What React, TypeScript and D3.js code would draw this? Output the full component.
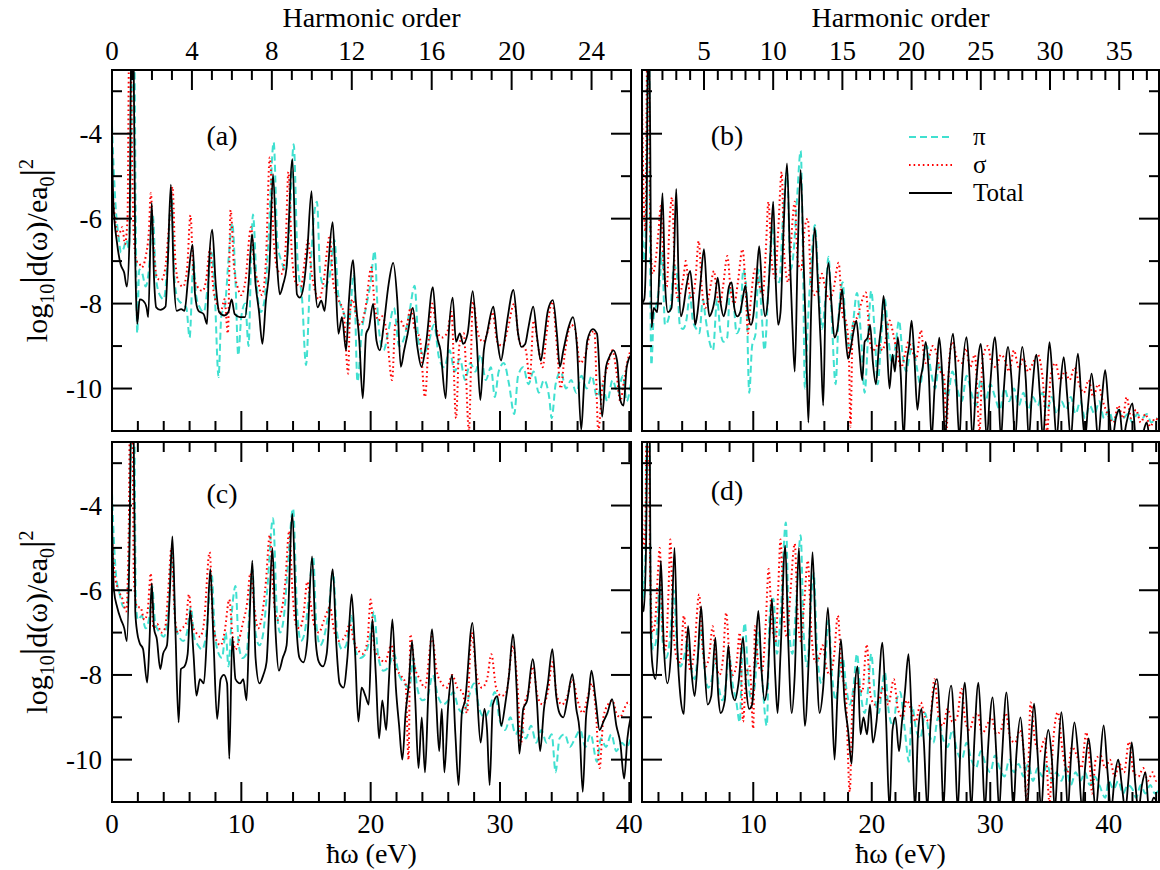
import React from "react";
import * as d3 from "d3";

// ---------- DATA (flat [eV, log10|d|^2] pairs) ----------
const totalA = [0.0,-4.1, 0.1,-5.6, 0.4,-6.6, 0.67,-7.08, 0.94,-7.27, 1.15,-7.6, 1.35,-6.5, 1.5,-1.5, 1.65,-1.5, 1.8,-7.0, 1.87,-7.93, 1.95,-8.48, 2.14,-7.9, 2.4,-7.93, 2.67,-8.09, 2.8,-8.32, 3.07,-5.63, 3.25,-7.4, 3.42,-8.09, 3.74,-8.15, 4.14,-8.07, 4.3,-7.15, 4.55,-5.2, 4.78,-7.4, 5.0,-8.17, 5.35,-8.13, 5.61,-8.17, 5.88,-7.43, 6.23,-6.61, 6.42,-7.78, 6.68,-8.17, 7.09,-8.25, 7.35,-8.48, 7.49,-7.15, 7.75,-6.26, 8.02,-7.54, 8.29,-8.2, 8.69,-8.28, 9.0,-8.2, 9.25,-7.9, 9.49,-8.25, 9.89,-8.32, 10.29,-8.32, 10.56,-7.54, 10.83,-6.37, 11.1,-7.54, 11.36,-8.17, 11.63,-8.95, 11.9,-7.93, 12.17,-7.15, 12.45,-4.95, 12.75,-7.0, 12.97,-7.78, 13.24,-7.54, 13.5,-7.15, 13.95,-4.6, 14.3,-7.78, 14.52,-7.86, 14.84,-7.54, 15.1,-6.76, 15.43,-5.35, 15.7,-7.54, 15.9,-8.09, 16.18,-7.93, 16.44,-8.17, 16.71,-7.15, 17.06,-6.08, 17.25,-7.15, 17.51,-8.71, 17.78,-8.32, 18.1,-9.1, 18.32,-7.93, 18.64,-6.98, 18.85,-7.93, 19.12,-8.87, 19.39,-10.23, 19.65,-8.71, 19.87,-8.56, 20.19,-8.01, 20.45,-8.87, 20.72,-9.1, 20.99,-8.56, 21.39,-7.54, 21.74,-7.04, 22.06,-7.93, 22.33,-9.49, 22.59,-9.1, 22.86,-8.71, 23.26,-8.1, 23.6,-9.0, 23.93,-9.49, 24.3,-8.9, 24.81,-7.61, 25.1,-8.7, 25.4,-9.1, 25.8,-10.23, 26.0,-8.9, 26.34,-7.86, 26.6,-8.9, 26.9,-8.7, 27.15,-8.95, 27.5,-8.7, 27.89,-7.71, 28.2,-8.87, 28.48,-10.27, 28.75,-9.1, 29.0,-8.7, 29.49,-8.07, 29.8,-8.87, 30.08,-9.34, 30.35,-8.87, 30.6,-8.32, 31.04,-7.68, 31.4,-8.71, 31.65,-9.02, 31.95,-8.95, 32.2,-8.56, 32.57,-8.07, 32.9,-8.87, 33.16,-9.34, 33.4,-8.87, 33.7,-8.17, 34.09,-7.92, 34.4,-8.71, 34.63,-9.49, 34.9,-9.1, 35.3,-8.56, 35.64,-8.32, 35.95,-9.0, 36.28,-10.97, 36.5,-9.9, 36.75,-8.87, 37.17,-8.6, 37.5,-8.71, 37.9,-10.66, 38.2,-9.49, 38.45,-9.26, 38.77,-9.1, 39.05,-9.34, 39.3,-10.27, 39.55,-10.4, 39.8,-9.49, 40.1,-9.22];

const sigmaA = [0.0,-5.2, 0.2,-5.9, 0.5,-6.4, 0.8,-6.2, 1.0,-6.6, 1.2,-6.0, 1.32,-2.0, 1.42,-1.5, 1.55,-4.5, 1.7,-6.5, 1.9,-7.0, 2.1,-7.04, 2.3,-7.15, 2.6,-6.9, 2.85,-6.3, 3.0,-5.4, 3.2,-6.6, 3.5,-7.4, 3.8,-7.45, 4.1,-7.2, 4.4,-6.2, 4.68,-5.25, 4.9,-7.0, 5.15,-7.5, 5.5,-7.6, 5.8,-7.2, 6.07,-5.92, 6.3,-7.3, 6.6,-7.6, 7.0,-7.7, 7.3,-7.4, 7.57,-6.7, 7.85,-7.7, 8.1,-8.0, 8.4,-8.2, 8.7,-7.9, 8.96,-8.7, 9.17,-5.8, 9.45,-7.2, 9.7,-7.6, 10.0,-7.8, 10.3,-7.5, 10.75,-6.2, 11.0,-7.1, 11.3,-7.5, 11.6,-7.8, 11.9,-7.0, 12.2,-4.56, 12.5,-6.5, 12.8,-7.2, 13.1,-7.3, 13.4,-6.8, 13.64,-4.9, 13.9,-6.8, 14.2,-7.5, 14.6,-7.6, 14.9,-7.0, 15.15,-6.5, 15.4,-7.2, 15.7,-7.7, 16.0,-7.9, 16.3,-7.6, 16.84,-6.4, 17.1,-7.5, 17.5,-7.9, 17.9,-8.2, 18.26,-9.65, 18.4,-8.2, 18.6,-7.9, 18.9,-8.3, 19.2,-8.5, 19.6,-8.1, 20.05,-7.15, 20.3,-8.0, 20.6,-8.4, 20.9,-8.3, 21.2,-8.6, 21.66,-9.8, 21.9,-8.5, 22.3,-8.4, 22.7,-8.6, 23.1,-8.1, 23.4,-8.6, 23.8,-8.8, 24.2,-10.2, 24.5,-8.8, 24.75,-8.0, 25.1,-8.6, 25.5,-8.8, 25.9,-8.7, 26.25,-8.2, 26.6,-10.7, 26.85,-9.0, 27.2,-8.7, 27.6,-11.0, 27.9,-7.95, 28.3,-8.7, 28.7,-8.9, 29.1,-8.6, 29.4,-8.2, 29.8,-8.9, 30.2,-9.0, 30.6,-8.6, 31.1,-8.0, 31.5,-8.9, 32.0,-9.1, 32.3,-9.8, 32.6,-8.4, 33.0,-9.1, 33.3,-9.5, 33.6,-8.7, 34.05,-7.95, 34.4,-9.0, 34.7,-10.0, 35.0,-9.2, 35.5,-8.5, 35.8,-8.6, 36.2,-9.4, 36.6,-9.2, 37.0,-8.7, 37.3,-8.65, 37.6,-11.0, 37.9,-10.0, 38.3,-9.5, 38.7,-9.1, 39.0,-9.6, 39.3,-10.3, 39.6,-9.8, 39.9,-9.3, 40.1,-9.1];

const piA = [0.0,-3.8, 0.1,-4.6, 0.3,-5.8, 0.5,-6.4, 0.7,-6.8, 0.9,-6.7, 1.1,-6.5, 1.3,-6.7, 1.5,-4.0, 1.6,-1.5, 1.7,-1.5, 1.85,-6.5, 1.95,-8.7, 2.1,-7.2, 2.35,-7.3, 2.6,-7.6, 2.85,-7.2, 3.15,-5.9, 3.4,-7.4, 3.7,-7.8, 4.0,-7.9, 4.3,-7.0, 4.6,-5.4, 4.85,-7.5, 5.1,-7.9, 5.4,-8.0, 5.75,-8.1, 6.0,-8.8, 6.3,-7.0, 6.5,-7.8, 6.8,-8.1, 7.1,-8.2, 7.4,-7.6, 7.7,-6.8, 7.95,-7.8, 8.24,-9.73, 8.45,-8.3, 8.75,-8.0, 9.0,-7.0, 9.3,-6.1, 9.55,-7.5, 9.76,-9.22, 10.0,-8.3, 10.3,-8.0, 10.56,-9.0, 10.75,-7.0, 10.9,-5.9, 11.2,-7.6, 11.5,-8.2, 11.8,-7.9, 12.1,-6.5, 12.5,-4.2, 12.8,-6.6, 13.1,-7.0, 13.4,-7.2, 13.7,-6.3, 14.05,-4.25, 14.35,-7.0, 14.7,-7.9, 15.0,-9.45, 15.3,-7.5, 15.6,-6.0, 15.85,-5.6, 16.1,-7.3, 16.4,-7.6, 16.8,-7.4, 17.2,-6.5, 17.5,-7.8, 17.9,-8.2, 18.3,-8.5, 18.7,-7.3, 18.98,-9.84, 19.3,-8.7, 19.7,-8.0, 20.0,-7.5, 20.3,-6.76, 20.6,-8.5, 21.0,-9.1, 21.4,-8.6, 21.8,-8.1, 22.2,-9.0, 22.6,-8.8, 23.0,-8.2, 23.4,-7.58, 23.7,-8.9, 24.1,-9.2, 24.5,-8.9, 24.9,-8.5, 25.3,-9.3, 25.7,-9.5, 26.1,-9.1, 26.5,-9.6, 26.9,-9.3, 27.3,-9.8, 27.7,-9.4, 28.1,-9.6, 28.5,-9.2, 28.9,-9.8, 29.3,-9.5, 29.6,-10.2, 29.9,-9.6, 30.3,-9.4, 30.7,-9.9, 31.1,-10.6, 31.4,-9.7, 31.8,-9.5, 32.2,-9.9, 32.6,-9.6, 33.0,-10.1, 33.4,-9.8, 33.8,-10.2, 34.0,-10.7, 34.3,-9.9, 34.7,-9.6, 35.1,-10.0, 35.5,-9.8, 35.9,-10.1, 36.3,-9.7, 36.7,-10.0, 37.1,-9.7, 37.5,-10.2, 37.9,-9.9, 38.3,-10.3, 38.7,-9.8, 39.1,-10.1, 39.5,-9.7, 39.8,-10.3, 40.1,-9.9];

const totalB = [0.6,-8.0, 0.8,-7.9, 1.0,-6.0, 1.1,-2.0, 1.2,-1.5, 1.3,-4.0, 1.42,-8.56, 1.6,-8.1, 1.9,-8.2, 2.1,-7.0, 2.34,-5.4, 2.55,-7.5, 2.8,-8.2, 3.1,-8.1, 3.3,-7.0, 3.5,-5.3, 3.7,-7.4, 3.9,-8.3, 4.1,-8.1, 4.35,-7.6, 4.67,-7.23, 4.9,-7.8, 5.1,-8.5, 5.3,-8.2, 5.55,-7.5, 5.84,-6.72, 6.1,-7.8, 6.3,-8.3, 6.5,-8.2, 6.75,-7.9, 7.0,-7.39, 7.25,-8.0, 7.5,-8.3, 7.7,-8.1, 7.95,-7.6, 8.18,-7.5, 8.4,-8.1, 8.65,-8.3, 8.9,-8.2, 9.1,-7.9, 9.34,-7.58, 9.55,-8.2, 9.8,-8.5, 10.0,-8.3, 10.25,-7.5, 10.5,-6.65, 10.75,-7.7, 11.0,-8.3, 11.2,-8.0, 11.45,-6.8, 11.68,-5.6, 11.9,-7.5, 12.1,-8.5, 12.3,-8.2, 12.55,-6.3, 12.85,-4.7, 13.1,-7.0, 13.3,-8.5, 13.5,-9.6, 13.75,-6.8, 14.0,-4.85, 14.25,-7.0, 14.45,-8.8, 14.65,-10.8, 14.9,-8.0, 15.2,-6.22, 15.45,-7.5, 15.7,-9.0, 15.9,-10.4, 16.1,-8.0, 16.35,-7.04, 16.6,-8.0, 16.85,-8.8, 17.1,-8.6, 17.3,-8.1, 17.5,-7.66, 17.75,-8.6, 18.0,-9.3, 18.25,-9.0, 18.5,-8.6, 18.7,-8.4, 18.95,-9.1, 19.2,-9.8, 19.4,-8.9, 19.65,-8.8, 19.86,-8.5, 20.1,-9.4, 20.35,-9.9, 20.6,-9.0, 20.8,-8.5, 21.0,-7.82, 21.25,-8.8, 21.5,-10.0, 21.75,-9.2, 21.95,-9.6, 22.2,-8.79, 22.45,-9.7, 22.7,-11.2, 22.95,-9.4, 23.15,-9.0, 23.36,-8.4, 23.6,-9.3, 23.85,-10.5, 24.1,-9.8, 24.3,-9.5, 24.55,-8.9, 24.8,-9.6, 25.05,-11.2, 25.3,-10.0, 25.5,-9.4, 25.7,-8.8, 25.95,-9.7, 26.2,-11.2, 26.45,-9.8, 26.86,-8.71, 27.1,-9.6, 27.4,-11.2, 27.6,-9.9, 28.0,-8.79, 28.25,-9.7, 28.5,-11.2, 28.8,-9.9, 29.2,-8.95, 29.45,-9.8, 29.7,-11.2, 30.0,-9.9, 30.4,-8.79, 30.65,-9.7, 30.9,-11.2, 31.15,-10.0, 31.5,-9.02, 31.8,-9.8, 32.1,-11.2, 32.35,-10.1, 32.7,-9.02, 33.0,-9.8, 33.25,-11.2, 33.5,-10.2, 33.9,-9.2, 34.2,-10.2, 34.45,-11.2, 34.7,-10.1, 35.0,-8.91, 35.3,-10.0, 35.6,-11.2, 35.9,-10.0, 36.2,-9.26, 36.5,-10.2, 36.8,-11.2, 37.05,-10.2, 37.4,-9.18, 37.7,-10.3, 38.0,-11.2, 38.25,-10.4, 38.55,-9.65, 38.85,-10.4, 39.1,-11.2, 39.4,-10.3, 39.7,-9.57, 40.0,-10.5, 40.3,-11.2, 40.6,-10.7, 40.9,-10.5, 41.2,-11.2, 41.5,-10.8, 42.0,-10.35, 42.3,-11.2, 42.7,-11.2, 43.2,-10.8, 43.5,-11.2, 44.3,-11.2];

const sigmaB = [0.6,-3.0, 0.75,-5.5, 0.9,-6.3, 1.05,-2.0, 1.15,-1.5, 1.3,-6.0, 1.5,-7.3, 1.75,-7.0, 2.0,-6.3, 2.2,-5.7, 2.45,-7.2, 2.7,-7.6, 2.95,-6.0, 3.15,-5.5, 3.4,-7.4, 3.65,-7.9, 3.9,-7.7, 4.15,-7.3, 4.3,-7.0, 4.55,-7.6, 4.8,-7.9, 5.1,-7.5, 5.4,-6.53, 5.65,-7.6, 5.95,-8.1, 6.2,-7.9, 6.45,-7.5, 6.68,-7.23, 6.95,-7.8, 7.2,-8.0, 7.45,-7.6, 7.81,-6.88, 8.1,-7.7, 8.4,-8.0, 8.7,-7.5, 9.09,-6.72, 9.35,-7.6, 9.55,-8.7, 9.8,-7.9, 10.14,-7.19, 10.45,-7.5, 10.8,-7.8, 11.05,-6.8, 11.28,-5.6, 11.55,-7.0, 11.85,-7.4, 12.1,-6.3, 12.4,-4.9, 12.6,-6.8, 12.95,-7.5, 13.2,-6.5, 13.5,-5.6, 13.75,-7.0, 14.05,-7.2, 14.35,-6.2, 14.6,-6.0, 14.9,-7.6, 15.2,-7.8, 15.5,-7.6, 15.8,-7.3, 16.05,-7.6, 16.4,-7.9, 16.75,-7.7, 17.2,-7.04, 17.55,-8.3, 17.8,-8.4, 18.05,-9.0, 18.2,-10.9, 18.4,-8.5, 18.8,-8.3, 19.1,-8.0, 19.5,-7.74, 19.85,-8.9, 20.1,-9.1, 20.6,-8.95, 20.9,-9.1, 21.2,-8.8, 21.5,-8.4, 21.8,-8.7, 22.1,-9.1, 22.5,-9.5, 22.8,-9.2, 23.1,-8.9, 23.4,-9.1, 23.75,-9.3, 24.15,-8.63, 24.5,-9.4, 24.8,-9.3, 25.15,-9.0, 25.4,-9.1, 25.8,-9.6, 26.1,-9.7, 26.3,-11.0, 26.55,-9.3, 26.8,-8.9, 27.2,-9.3, 27.6,-9.4, 27.95,-9.05, 28.3,-9.5, 28.7,-9.2, 29.1,-11.0, 29.35,-9.3, 29.8,-9.0, 30.1,-9.4, 30.5,-9.5, 30.9,-9.2, 31.2,-9.3, 31.6,-9.6, 32.0,-9.1, 32.4,-9.5, 32.8,-9.3, 33.2,-9.6, 33.6,-9.4, 34.0,-9.2, 34.4,-9.7, 34.8,-11.0, 35.1,-9.7, 35.5,-9.4, 35.9,-9.8, 36.3,-9.6, 36.7,-9.8, 37.1,-9.5, 37.5,-9.9, 37.9,-10.1, 38.3,-9.8, 38.7,-10.2, 39.1,-9.9, 39.5,-10.3, 39.9,-10.6, 40.4,-10.8, 40.8,-10.4, 41.2,-10.7, 41.5,-10.2, 41.9,-10.7, 42.3,-10.5, 42.7,-10.8, 43.1,-10.6, 43.5,-10.9, 43.9,-10.7, 44.3,-10.8];

const piB = [0.6,-6.0, 0.8,-7.0, 0.95,-6.0, 1.1,-2.0, 1.2,-1.5, 1.3,-7.0, 1.4,-9.45, 1.6,-8.3, 1.85,-8.0, 2.1,-7.5, 2.3,-6.8, 2.55,-8.5, 2.8,-8.4, 3.05,-8.0, 3.3,-7.1, 3.55,-7.3, 3.8,-8.5, 4.05,-8.6, 4.35,-8.4, 4.65,-7.8, 4.9,-8.4, 5.2,-8.6, 5.45,-8.7, 5.75,-7.9, 5.95,-8.3, 6.4,-9.0, 6.6,-9.1, 6.95,-7.9, 7.2,-8.6, 7.5,-8.9, 7.8,-8.8, 8.05,-7.6, 8.25,-7.7, 8.6,-8.7, 8.9,-8.5, 9.15,-7.2, 9.4,-7.6, 9.66,-10.1, 9.9,-9.0, 10.2,-8.7, 10.45,-7.2, 10.7,-8.2, 10.95,-9.1, 11.3,-7.5, 11.6,-6.2, 11.9,-7.3, 12.2,-7.5, 12.5,-6.0, 12.85,-4.9, 13.15,-7.2, 13.4,-6.8, 13.7,-5.5, 14.0,-4.4, 14.2,-7.0, 14.35,-10.0, 14.6,-8.5, 14.9,-7.0, 15.2,-6.15, 15.5,-7.5, 15.8,-8.6, 16.05,-8.0, 16.35,-6.9, 16.6,-8.2, 16.95,-9.9, 17.2,-8.3, 17.55,-7.5, 17.8,-8.6, 18.05,-9.0, 18.4,-8.5, 18.75,-7.75, 19.1,-8.8, 19.4,-10.1, 19.7,-8.7, 19.95,-7.7, 20.25,-8.7, 20.5,-9.9, 20.8,-8.8, 21.1,-7.9, 21.4,-8.8, 21.7,-9.4, 22.0,-9.0, 22.3,-8.4, 22.6,-9.2, 22.9,-9.6, 23.2,-9.2, 23.45,-8.95, 23.8,-9.5, 24.1,-9.9, 24.4,-9.3, 24.65,-9.0, 25.0,-9.6, 25.35,-10.0, 25.7,-9.4, 26.0,-9.8, 26.4,-10.2, 26.8,-9.6, 27.2,-10.0, 27.6,-10.3, 28.0,-9.7, 28.4,-10.1, 28.8,-10.4, 29.2,-9.8, 29.6,-10.3, 30.0,-9.9, 30.4,-10.2, 30.8,-10.5, 31.2,-10.0, 31.6,-10.3, 32.0,-10.0, 32.4,-10.4, 32.8,-10.1, 33.2,-10.5, 33.6,-10.2, 34.0,-10.4, 34.4,-10.1, 34.8,-10.5, 35.2,-10.2, 35.6,-10.6, 36.0,-10.3, 36.4,-10.5, 36.8,-10.2, 37.2,-10.6, 37.6,-10.3, 38.0,-10.7, 38.4,-10.4, 38.8,-10.6, 39.2,-10.3, 39.6,-10.7, 40.0,-10.5, 40.4,-10.8, 40.8,-10.5, 41.2,-10.7, 41.6,-10.6, 42.0,-10.8, 42.4,-10.6, 42.8,-10.7, 43.2,-10.6, 43.6,-10.8, 44.0,-10.7, 44.3,-10.8];

const totalC = [0.0,-4.3, 0.15,-6.0, 0.4,-6.4, 0.7,-6.7, 0.95,-6.9, 1.15,-7.2, 1.35,-5.0, 1.5,-1.5, 1.65,-1.5, 1.8,-6.5, 1.95,-7.0, 2.13,-7.24, 2.4,-7.39, 2.72,-8.18, 2.9,-7.2, 3.07,-5.84, 3.25,-6.9, 3.47,-7.16, 3.73,-7.86, 3.95,-7.5, 4.25,-7.3, 4.45,-6.2, 4.67,-4.73, 4.9,-6.9, 5.15,-9.12, 5.33,-7.86, 5.6,-7.8, 5.85,-7.5, 6.05,-6.49, 6.3,-7.5, 6.53,-8.49, 6.8,-8.1, 7.1,-8.2, 7.35,-7.0, 7.6,-5.5, 7.85,-7.2, 8.13,-9.04, 8.4,-8.1, 8.65,-8.0, 8.9,-8.2, 9.07,-9.98, 9.3,-7.1, 9.55,-8.1, 9.9,-8.2, 10.15,-8.1, 10.4,-8.6, 10.6,-7.0, 10.85,-5.3, 11.1,-7.6, 11.4,-8.2, 11.7,-8.0, 11.95,-7.7, 12.15,-6.5, 12.4,-5.0, 12.65,-7.0, 12.9,-7.9, 13.2,-7.6, 13.5,-7.3, 13.95,-4.2, 14.25,-6.8, 14.5,-7.6, 14.8,-7.7, 15.1,-7.2, 15.47,-5.2, 15.75,-7.2, 16.0,-7.7, 16.3,-7.8, 16.6,-7.5, 17.07,-5.5, 17.35,-7.3, 17.6,-8.2, 17.9,-8.3, 18.2,-7.6, 18.53,-6.1, 18.8,-7.5, 19.05,-9.1, 19.3,-8.3, 19.6,-8.5, 19.85,-8.7, 20.13,-6.69, 20.4,-8.0, 20.65,-9.5, 20.9,-8.6, 21.2,-9.3, 21.4,-8.2, 21.68,-6.69, 21.95,-8.3, 22.2,-9.2, 22.45,-10.0, 22.7,-8.9, 22.95,-8.2, 23.2,-7.2, 23.45,-8.6, 23.7,-10.2, 23.95,-9.0, 24.2,-10.3, 24.45,-8.5, 24.75,-6.92, 25.05,-8.5, 25.3,-9.8, 25.5,-8.8, 25.7,-10.3, 26.0,-8.7, 26.3,-8.0, 26.55,-9.4, 26.8,-10.6, 27.05,-8.9, 27.3,-8.6, 27.87,-6.77, 28.2,-8.3, 28.5,-9.6, 28.8,-8.8, 29.0,-9.3, 29.2,-10.6, 29.45,-8.7, 29.8,-8.5, 30.1,-9.2, 30.4,-8.7, 30.7,-8.0, 31.0,-7.04, 31.3,-8.4, 31.5,-9.86, 31.8,-8.8, 32.1,-8.6, 32.53,-7.63, 32.85,-8.6, 33.1,-9.8, 33.4,-8.8, 33.7,-8.2, 34.05,-7.39, 34.35,-8.5, 34.6,-8.9, 34.9,-9.0, 35.2,-8.6, 35.6,-7.98, 35.9,-8.8, 36.15,-9.3, 36.4,-10.76, 36.65,-9.0, 36.85,-8.5, 37.07,-7.9, 37.4,-8.6, 37.7,-9.3, 38.0,-9.1, 38.3,-8.9, 38.67,-8.57, 39.0,-9.2, 39.3,-9.6, 39.6,-10.45, 39.85,-9.5, 40.1,-9.0];

const sigmaC = [0.0,-4.8, 0.2,-5.6, 0.5,-6.0, 0.8,-6.2, 1.1,-6.5, 1.3,-4.5, 1.4,-1.5, 1.55,-1.5, 1.7,-5.8, 1.95,-6.4, 2.2,-6.4, 2.5,-6.7, 2.75,-6.5, 3.0,-5.6, 3.2,-6.9, 3.5,-6.8, 3.8,-7.0, 4.1,-6.9, 4.35,-6.0, 4.6,-5.0, 4.85,-6.6, 5.1,-7.0, 5.4,-6.9, 5.7,-6.8, 5.95,-6.1, 6.2,-6.8, 6.5,-7.0, 6.8,-7.1, 7.1,-6.8, 7.55,-5.1, 7.8,-6.7, 8.1,-7.2, 8.4,-7.3, 8.7,-7.0, 9.07,-6.22, 9.3,-7.0, 9.55,-7.4, 9.8,-7.2, 10.1,-6.8, 10.45,-6.3, 10.7,-5.6, 11.0,-6.4, 11.3,-6.9, 11.6,-6.6, 11.9,-5.8, 12.2,-4.7, 12.5,-6.2, 12.8,-6.7, 13.1,-6.5, 13.4,-5.8, 13.7,-4.6, 13.95,-6.0, 14.2,-6.8, 14.5,-6.9, 14.8,-6.6, 15.1,-5.8, 15.35,-6.3, 15.7,-6.9, 16.0,-7.0, 16.4,-6.7, 16.85,-6.4, 17.2,-7.0, 17.6,-7.2, 18.0,-7.1, 18.4,-6.8, 18.7,-7.2, 19.0,-7.4, 19.4,-7.5, 19.75,-7.2, 20.0,-6.22, 20.3,-7.4, 20.7,-7.6, 21.1,-7.7, 21.6,-7.3, 21.9,-7.8, 22.3,-8.0, 22.7,-8.2, 22.93,-10.0, 23.07,-7.04, 23.4,-7.8, 23.8,-8.1, 24.2,-8.3, 24.75,-7.1, 25.1,-7.9, 25.5,-8.2, 25.9,-8.3, 26.3,-8.0, 26.7,-8.3, 27.1,-8.4, 27.45,-8.9, 27.8,-7.0, 28.2,-8.0, 28.6,-8.3, 29.0,-8.1, 29.33,-7.51, 29.7,-8.3, 30.1,-8.5, 30.5,-8.4, 31.0,-7.3, 31.4,-8.5, 31.6,-9.66, 31.9,-8.7, 32.2,-8.4, 32.55,-7.8, 32.9,-8.5, 33.3,-8.7, 33.7,-8.4, 34.05,-7.7, 34.4,-8.5, 34.8,-8.7, 35.2,-8.5, 35.6,-8.1, 36.0,-8.6, 36.4,-8.9, 36.8,-8.5, 37.1,-8.2, 37.4,-8.8, 37.7,-10.2, 38.0,-9.0, 38.35,-8.7, 38.7,-8.6, 39.0,-8.9, 39.3,-9.0, 39.6,-8.8, 39.9,-8.65, 40.1,-8.7];

const piC = [0.0,-3.7, 0.1,-4.5, 0.3,-5.6, 0.6,-6.1, 0.9,-6.4, 1.2,-6.3, 1.4,-4.0, 1.55,-1.5, 1.7,-1.5, 1.85,-6.3, 2.0,-6.7, 2.3,-6.6, 2.6,-6.9, 2.9,-6.6, 3.1,-5.9, 3.35,-6.8, 3.7,-7.0, 4.0,-7.1, 4.3,-6.7, 4.65,-5.1, 4.9,-6.8, 5.2,-7.1, 5.5,-7.2, 5.8,-7.0, 6.1,-6.4, 6.35,-7.1, 6.65,-7.3, 6.95,-7.4, 7.3,-7.0, 7.7,-5.6, 7.95,-7.0, 8.25,-7.5, 8.5,-7.6, 8.8,-7.0, 9.0,-7.8, 9.3,-6.4, 9.55,-5.9, 9.8,-7.3, 10.1,-7.6, 10.4,-7.5, 10.85,-5.5, 11.1,-7.0, 11.4,-7.3, 11.7,-7.0, 12.0,-6.0, 12.45,-4.3, 12.75,-6.5, 13.0,-7.0, 13.3,-6.6, 13.6,-5.4, 14.0,-4.07, 14.3,-6.4, 14.6,-7.2, 14.9,-7.0, 15.2,-6.2, 15.55,-5.2, 15.8,-6.8, 16.1,-7.3, 16.4,-7.1, 16.7,-6.6, 17.1,-5.6, 17.4,-7.0, 17.8,-7.4, 18.1,-7.3, 18.5,-6.6, 18.8,-7.4, 19.2,-7.6, 19.6,-7.5, 20.0,-7.0, 20.25,-6.5, 20.6,-7.6, 21.0,-7.9, 21.4,-7.8, 21.8,-7.5, 22.2,-8.0, 22.6,-8.2, 23.0,-8.3, 23.3,-7.6, 23.6,-8.3, 24.0,-8.6, 24.4,-8.5, 24.8,-8.0, 25.2,-8.5, 25.6,-8.7, 26.0,-8.6, 26.4,-8.4, 26.8,-8.8, 27.2,-8.9, 27.6,-8.5, 28.0,-8.2, 28.4,-8.8, 28.8,-9.0, 29.2,-8.8, 29.6,-8.4, 30.0,-9.1, 30.4,-9.3, 30.8,-9.0, 31.2,-9.4, 31.6,-9.2, 32.0,-9.5, 32.4,-9.2, 32.8,-9.6, 33.2,-9.3, 33.6,-9.6, 34.0,-9.4, 34.3,-10.3, 34.6,-9.5, 35.0,-9.4, 35.4,-9.7, 35.8,-9.5, 36.2,-9.3, 36.6,-9.7, 37.0,-9.4, 37.5,-10.05, 37.8,-9.5, 38.2,-9.7, 38.6,-9.4, 39.0,-9.8, 39.4,-9.6, 39.8,-9.7, 40.1,-9.5];

const totalD = [0.6,-6.0, 0.75,-6.5, 0.95,-5.0, 1.1,-1.5, 1.25,-1.5, 1.35,-7.0, 1.5,-7.8, 1.75,-8.1, 2.0,-7.0, 2.2,-5.3, 2.45,-7.3, 2.75,-8.2, 3.05,-7.5, 3.35,-5.0, 3.6,-7.4, 3.85,-8.5, 4.14,-8.92, 4.3,-7.8, 4.5,-6.85, 4.75,-7.8, 5.05,-8.5, 5.3,-7.7, 5.6,-6.38, 5.85,-7.6, 6.15,-8.7, 6.45,-8.5, 6.8,-7.12, 7.05,-8.5, 7.25,-8.9, 7.6,-8.6, 7.9,-7.3, 8.15,-8.3, 8.45,-8.6, 8.75,-8.2, 9.14,-7.12, 9.4,-8.3, 9.65,-8.8, 9.9,-8.7, 10.15,-7.6, 10.43,-6.49, 10.7,-7.9, 10.95,-8.6, 11.2,-8.2, 11.57,-6.2, 11.85,-8.0, 12.05,-8.9, 12.3,-7.5, 12.7,-4.95, 12.95,-7.2, 13.25,-8.9, 13.5,-8.0, 13.85,-5.0, 14.1,-7.4, 14.35,-9.2, 14.7,-7.5, 15.0,-5.1, 15.3,-7.4, 15.6,-8.9, 15.9,-8.3, 16.3,-6.41, 16.6,-8.3, 16.86,-10.0, 17.1,-8.5, 17.4,-7.16, 17.7,-8.6, 18.0,-9.3, 18.3,-10.1, 18.55,-8.4, 18.8,-7.8, 19.05,-9.4, 19.3,-9.0, 19.6,-9.4, 19.85,-8.7, 20.1,-9.6, 20.4,-9.1, 20.9,-7.24, 21.2,-9.0, 21.5,-11.2, 21.75,-9.3, 22.0,-9.0, 22.3,-9.8, 22.55,-9.1, 22.8,-8.4, 23.1,-7.51, 23.4,-9.3, 23.65,-11.2, 23.9,-9.4, 24.2,-8.8, 24.4,-9.6, 24.7,-11.2, 24.95,-9.2, 25.5,-8.1, 25.8,-9.3, 26.05,-11.2, 26.3,-9.4, 26.7,-8.25, 27.0,-9.5, 27.25,-11.2, 27.5,-9.6, 27.86,-8.18, 28.15,-9.6, 28.4,-11.2, 28.65,-9.6, 29.0,-8.18, 29.3,-9.7, 29.55,-11.2, 29.8,-9.8, 30.2,-8.53, 30.5,-9.8, 30.75,-11.2, 31.0,-9.9, 31.37,-8.41, 31.7,-9.8, 31.95,-11.2, 32.2,-9.9, 32.55,-9.0, 32.85,-10.0, 33.1,-11.2, 33.35,-10.0, 33.7,-8.68, 34.0,-9.9, 34.3,-11.2, 34.55,-10.1, 34.9,-9.3, 35.2,-10.0, 35.45,-11.2, 35.7,-10.0, 36.0,-8.88, 36.3,-9.9, 36.55,-11.2, 36.8,-10.0, 37.1,-9.12, 37.45,-10.0, 37.75,-11.2, 38.0,-10.2, 38.3,-9.5, 38.6,-10.3, 38.9,-11.2, 39.2,-10.3, 39.57,-9.19, 39.9,-10.3, 40.2,-11.2, 40.5,-10.4, 40.8,-10.0, 41.1,-10.6, 41.4,-11.2, 41.65,-10.5, 41.94,-9.59, 42.25,-10.6, 42.5,-11.2, 42.8,-10.6, 43.1,-10.3, 43.4,-11.2, 43.8,-10.9, 44.3,-11.2];

const sigmaD = [0.6,-4.0, 0.75,-5.0, 0.9,-4.5, 1.0,-1.5, 1.15,-1.5, 1.3,-5.5, 1.5,-7.0, 1.7,-6.8, 1.95,-5.6, 2.1,-5.0, 2.35,-6.9, 2.6,-7.4, 2.85,-6.0, 3.0,-4.8, 3.25,-6.9, 3.55,-7.6, 3.85,-7.7, 4.14,-6.6, 4.4,-7.3, 4.7,-7.9, 5.0,-7.5, 5.43,-6.1, 5.7,-7.3, 6.0,-7.8, 6.3,-7.5, 6.57,-6.85, 6.85,-7.7, 7.15,-8.0, 7.45,-7.6, 7.71,-6.53, 8.0,-7.6, 8.3,-8.0, 8.6,-7.7, 8.86,-7.0, 9.14,-9.1, 9.4,-8.0, 9.7,-7.8, 10.0,-9.27, 10.14,-6.85, 10.45,-7.8, 10.75,-7.9, 11.05,-6.8, 11.3,-5.5, 11.6,-6.9, 11.9,-7.2, 12.1,-6.0, 12.3,-4.8, 12.55,-6.5, 12.85,-7.1, 13.1,-6.2, 13.5,-4.9, 13.75,-6.6, 14.0,-7.2, 14.3,-6.3, 14.6,-5.3, 14.9,-7.0, 15.25,-7.7, 15.55,-7.6, 15.86,-7.3, 16.15,-7.8, 16.45,-8.0, 16.8,-7.6, 17.14,-6.6, 17.45,-7.9, 17.8,-8.4, 18.14,-10.76, 18.4,-8.5, 18.8,-8.2, 19.2,-8.4, 19.57,-7.28, 19.9,-8.5, 20.25,-8.7, 20.6,-8.6, 21.0,-8.3, 21.4,-8.7, 21.86,-8.1, 22.2,-8.8, 22.6,-9.0, 22.95,-8.6, 23.3,-8.8, 23.7,-9.1, 24.14,-8.65, 24.5,-9.0, 24.9,-9.1, 25.29,-8.1, 25.65,-9.0, 26.0,-9.2, 26.4,-8.8, 26.8,-9.1, 27.2,-9.0, 27.57,-8.33, 27.9,-9.1, 28.25,-9.3, 28.6,-9.0, 28.95,-8.9, 29.3,-9.4, 29.7,-9.2, 30.1,-9.0, 30.5,-9.4, 30.9,-9.3, 31.3,-8.9, 31.7,-9.5, 32.1,-9.6, 32.5,-9.3, 32.8,-9.7, 33.1,-11.15, 33.4,-8.65, 33.8,-9.6, 34.2,-9.8, 34.6,-9.5, 35.0,-11.0, 35.3,-9.6, 35.7,-8.88, 36.1,-9.8, 36.5,-10.3, 36.9,-9.7, 37.3,-9.9, 37.7,-10.2, 38.1,-9.35, 38.4,-10.1, 38.6,-10.8, 38.9,-10.0, 39.3,-9.9, 39.7,-10.2, 40.1,-10.0, 40.5,-10.4, 40.9,-10.1, 41.3,-10.3, 41.7,-9.58, 42.1,-10.3, 42.5,-10.4, 42.9,-10.2, 43.3,-10.5, 43.7,-10.3, 44.0,-10.5, 44.3,-10.4];

const piD = [0.6,-5.0, 0.75,-6.2, 0.9,-5.0, 1.05,-1.5, 1.2,-1.5, 1.35,-6.5, 1.55,-7.4, 1.8,-7.2, 2.1,-5.9, 2.35,-7.2, 2.65,-7.6, 2.95,-7.2, 3.3,-6.0, 3.55,-7.3, 3.85,-7.8, 4.15,-7.6, 4.45,-7.2, 4.75,-7.8, 5.05,-8.1, 5.3,-7.6, 5.6,-6.9, 5.9,-7.9, 6.2,-8.3, 6.5,-8.1, 6.8,-7.6, 7.1,-8.3, 7.4,-8.6, 7.7,-8.2, 7.95,-7.5, 8.25,-8.2, 8.55,-8.6, 8.86,-9.12, 9.05,-7.6, 9.29,-6.77, 9.55,-8.0, 9.85,-8.6, 10.15,-8.2, 10.45,-7.0, 10.75,-8.1, 11.14,-9.2, 11.4,-6.5, 11.7,-6.2, 12.0,-7.5, 12.3,-6.6, 12.75,-4.4, 13.0,-6.8, 13.3,-7.5, 13.6,-6.4, 14.0,-4.7, 14.25,-7.0, 14.55,-7.8, 14.85,-6.4, 15.1,-5.6, 15.4,-7.5, 15.75,-8.2, 16.05,-7.8, 16.35,-6.7, 16.65,-8.0, 16.95,-8.6, 17.25,-8.0, 17.55,-7.6, 17.85,-8.3, 18.15,-8.7, 18.45,-8.3, 18.75,-7.5, 19.05,-8.4, 19.4,-8.9, 19.7,-8.3, 19.95,-7.5, 20.3,-8.6, 20.6,-8.9, 20.85,-8.3, 21.1,-7.94, 21.45,-8.9, 21.8,-9.2, 22.1,-8.6, 22.4,-8.4, 22.75,-9.2, 23.14,-10.05, 23.4,-8.72, 23.75,-9.3, 24.1,-9.5, 24.5,-8.9, 24.85,-9.4, 25.2,-9.6, 25.6,-9.0, 26.0,-9.5, 26.4,-9.7, 26.8,-9.3, 27.2,-9.8, 27.6,-10.0, 28.0,-9.6, 28.4,-10.0, 28.8,-10.2, 29.2,-9.8, 29.6,-10.1, 30.0,-10.3, 30.4,-9.9, 30.8,-10.2, 31.2,-10.4, 31.6,-10.0, 32.0,-10.3, 32.4,-10.1, 32.8,-10.4, 33.2,-10.1, 33.6,-10.5, 34.0,-10.2, 34.4,-10.4, 34.8,-10.1, 35.2,-10.5, 35.6,-10.3, 36.0,-10.5, 36.4,-10.2, 36.8,-10.6, 37.2,-10.3, 37.6,-10.5, 38.0,-10.3, 38.4,-10.6, 38.8,-10.4, 39.2,-10.6, 39.7,-10.9, 40.0,-10.5, 40.4,-10.7, 40.8,-10.5, 41.2,-10.8, 41.6,-10.6, 42.0,-10.7, 42.3,-10.9, 42.7,-10.6, 43.1,-10.8, 43.5,-10.6, 43.9,-10.8, 44.3,-10.7];

// ---------- AXES ----------
const yMajorTicks = [-10, -8, -6, -4];
const yMinorTicks = [-11, -9, -7, -5, -3];
const eVLabels = [0, 10, 20, 30, 40];
const harmLabelsLeft = [0, 4, 8, 12, 16, 20, 24];
const harmLabelsRight = [5, 10, 15, 20, 25, 30, 35];
const photonLeft = 1.545; // eV per harmonic order, panels (a),(c)
const photonRight = 1.168; // eV per harmonic order, panels (b),(d)
const yDomain = [-11, -2.5];
const legendNames = ["π", "σ", "Total"];

const FONT = '"Liberation Serif", "DejaVu Serif", "Times New Roman", Times, serif';
const PI_COLOR = "#40E0D0";
const SIGMA_COLOR = "#FF0000";
const TOTAL_COLOR = "#000000";

type Pt = [number, number];
const toPts = (a: number[]): Pt[] => {
  const out: Pt[] = [];
  for (let i = 0; i + 1 < a.length; i += 2) out.push([a[i], a[i + 1]]);
  return out;
};

type Panel = {
  id: string;
  label: string;
  left: number;
  right: number;
  top: number;
  bottom: number;
  xDomain: [number, number];
  photon: number;
  harmStep: number;
  topHarmonic: boolean;
  bottomLabels: boolean;
  leftLabels: boolean;
  legend: boolean;
  pi: number[];
  sigma: number[];
  total: number[];
  labelX: number;
  labelY: number;
};

const panels: Panel[] = [
  { id: "a", label: "(a)", left: 112, right: 631, top: 70, bottom: 431, xDomain: [0, 40.13], photon: photonLeft, harmStep: 4, topHarmonic: true, bottomLabels: false, leftLabels: true, legend: false, pi: piA, sigma: sigmaA, total: totalA, labelX: 222, labelY: 135 },
  { id: "b", label: "(b)", left: 642, right: 1159, top: 70, bottom: 431, xDomain: [0.61, 44.24], photon: photonRight, harmStep: 5, topHarmonic: true, bottomLabels: false, leftLabels: false, legend: true, pi: piB, sigma: sigmaB, total: totalB, labelX: 727, labelY: 135 },
  { id: "c", label: "(c)", left: 112, right: 631, top: 442, bottom: 802, xDomain: [0, 40.13], photon: photonLeft, harmStep: 4, topHarmonic: false, bottomLabels: true, leftLabels: true, legend: false, pi: piC, sigma: sigmaC, total: totalC, labelX: 222, labelY: 493 },
  { id: "d", label: "(d)", left: 642, right: 1159, top: 442, bottom: 802, xDomain: [0.61, 44.24], photon: photonRight, harmStep: 5, topHarmonic: false, bottomLabels: true, leftLabels: false, legend: false, pi: piD, sigma: sigmaD, total: totalD, labelX: 727, labelY: 490 },
];

const MAJOR = 20;
const MINOR = 10;
const txt = (size: number): React.CSSProperties => ({ fontFamily: FONT, fontSize: size });

function PanelView({ p }: { p: Panel }) {
  const x = d3.scaleLinear().domain(p.xDomain).range([p.left, p.right]);
  const y = d3.scaleLinear().domain(yDomain).range([p.bottom, p.top]);
  const hLo = p.xDomain[0] / p.photon;
  const hHi = p.xDomain[1] / p.photon;
  const h = d3.scaleLinear().domain([hLo, hHi]).range([p.left, p.right]);
  const line = d3
    .line<Pt>()
    .x((d) => x(d[0]))
    .y((d) => y(d[1]))
    .curve(d3.curveMonotoneX);

  const inX = (v: number) => v >= p.xDomain[0] - 1e-6 && v <= p.xDomain[1] + 1e-6;
  const eVTicks = d3.range(0, 46, 2).filter(inX);
  const hTicks = d3.range(0, 40, 1).filter((v) => v >= hLo - 1e-6 && v <= hHi + 1e-6);
  const harmLabels = p.harmStep === 4 ? harmLabelsLeft : harmLabelsRight;
  const tickStroke = { stroke: "#000", strokeWidth: 2 };

  const lines: React.ReactElement[] = [];
  if (p.topHarmonic) {
    hTicks.forEach((v) => {
      const major = harmLabels.includes(v);
      lines.push(<line key={`th${v}`} x1={h(v)} x2={h(v)} y1={p.top} y2={p.top + (major ? MAJOR : MINOR)} {...tickStroke} />);
    });
  } else {
    eVTicks.forEach((v) => {
      const major = v % 10 === 0;
      lines.push(<line key={`te${v}`} x1={x(v)} x2={x(v)} y1={p.top} y2={p.top + (major ? MAJOR : MINOR)} {...tickStroke} />);
    });
  }
  eVTicks.forEach((v) => {
    const major = v % 10 === 0;
    lines.push(<line key={`be${v}`} x1={x(v)} x2={x(v)} y1={p.bottom} y2={p.bottom - (major ? MAJOR : MINOR)} {...tickStroke} />);
  });
  [...yMajorTicks, ...yMinorTicks].forEach((v) => {
    const major = yMajorTicks.includes(v);
    const len = major ? MAJOR : MINOR;
    lines.push(<line key={`yl${v}`} x1={p.left} x2={p.left + len} y1={y(v)} y2={y(v)} {...tickStroke} />);
    lines.push(<line key={`yr${v}`} x1={p.right} x2={p.right - len} y1={y(v)} y2={y(v)} {...tickStroke} />);
  });

  const clipId = `clip-${p.id}`;
  return (
    <g>
      <defs>
        <clipPath id={clipId}>
          <rect x={p.left} y={p.top} width={p.right - p.left} height={p.bottom - p.top} />
        </clipPath>
      </defs>
      <g clipPath={`url(#${clipId})`}>
        <path d={line(toPts(p.pi)) || ""} fill="none" stroke={PI_COLOR} strokeWidth={2} strokeDasharray="7,4" />
        <path d={line(toPts(p.sigma)) || ""} fill="none" stroke={SIGMA_COLOR} strokeWidth={2} strokeDasharray="1.6,3" />
        <path d={line(toPts(p.total)) || ""} fill="none" stroke={TOTAL_COLOR} strokeWidth={1.8} />
      </g>
      {lines}
      <rect x={p.left} y={p.top} width={p.right - p.left} height={p.bottom - p.top} fill="none" stroke="#000" strokeWidth={2} />
      {p.topHarmonic &&
        harmLabels.map((v) => (
          <text key={`hl${v}`} x={h(v)} y={p.top - 10} textAnchor="middle" style={txt(27)}>
            {v}
          </text>
        ))}
      {p.topHarmonic && (
        <text x={(p.left + p.right) / 2} y={27} textAnchor="middle" style={txt(28)}>
          Harmonic order
        </text>
      )}
      {p.bottomLabels &&
        eVLabels.filter(inX).map((v) => (
          <text key={`el${v}`} x={x(v)} y={p.bottom + 31} textAnchor="middle" style={txt(27)}>
            {v}
          </text>
        ))}
      {p.bottomLabels && (
        <text x={(p.left + p.right) / 2} y={863} textAnchor="middle" style={txt(28)}>
          ħω (eV)
        </text>
      )}
      {p.leftLabels &&
        yMajorTicks.map((v) => (
          <text key={`yl${v}`} x={p.left - 10} y={y(v)} dy="0.35em" textAnchor="end" style={txt(27)}>
            {`-${Math.abs(v)}`}
          </text>
        ))}
      {p.leftLabels && (
        <text transform={`translate(47,${(p.top + p.bottom) / 2}) rotate(-90)`} textAnchor="middle" style={txt(30)}>
          log
          <tspan style={txt(20)} dy={7}>10</tspan>
          <tspan style={txt(38)} dy={-7}>|</tspan>
          <tspan>d(ω)/ea</tspan>
          <tspan style={txt(20)} dy={7}>0</tspan>
          <tspan style={txt(38)} dy={-7}>|</tspan>
          <tspan style={txt(20)} dy={-14}>2</tspan>
        </text>
      )}
      <text x={p.labelX} y={p.labelY} dy="0.35em" textAnchor="middle" style={txt(28)}>
        {p.label}
      </text>
      {p.legend && (
        <g>
          {legendNames.map((name, i) => {
            const ly = [137, 165, 193][i];
            const stroke = [PI_COLOR, SIGMA_COLOR, TOTAL_COLOR][i];
            const dash = ["7,4", "1.6,3", undefined][i];
            return (
              <g key={name}>
                <line x1={909} x2={952} y1={ly} y2={ly} stroke={stroke} strokeWidth={2} strokeDasharray={dash} />
                <text x={973} y={ly} dy="0.33em" style={txt(25)}>
                  {name}
                </text>
              </g>
            );
          })}
        </g>
      )}
    </g>
  );
}

export default function App() {
  return (
    <svg width={1160} height={870} viewBox="0 0 1160 870" style={{ position: "fixed", left: 0, top: 0, background: "#fff" }}>
      <rect x={0} y={0} width={1160} height={870} fill="#fff" />
      {panels.map((p) => (
        <PanelView key={p.id} p={p} />
      ))}
    </svg>
  );
}
